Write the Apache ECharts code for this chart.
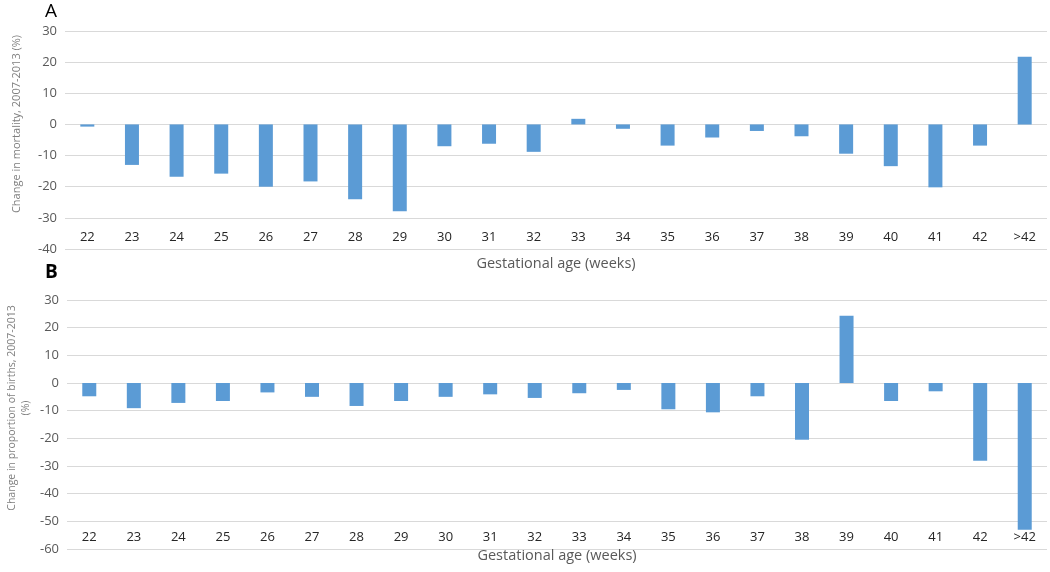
<!DOCTYPE html>
<html>
<head>
<meta charset="utf-8">
<script src="https://cdn.jsdelivr.net/npm/echarts@6/dist/echarts.min.js"></script>
<style>
html,body{margin:0;padding:0;background:#fff;}
#chart{width:1050px;height:572px;}
</style>
</head>
<body>
<div id="chart"></div>
<script>
const categories = ['22','23','24','25','26','27','28','29','30','31','32','33','34','35','36','37','38','39','40','41','42','>42'];
const mortalityChange = [-0.7,-13.0,-16.8,-15.8,-20.0,-18.3,-24.0,-27.9,-7.0,-6.2,-8.8,1.8,-1.4,-6.8,-4.2,-2.1,-3.8,-9.4,-13.4,-20.2,-6.8,21.7];
const birthsChange = [-4.8,-9.1,-7.2,-6.5,-3.4,-5.0,-8.3,-6.5,-5.0,-4.1,-5.4,-3.7,-2.5,-9.5,-10.6,-4.8,-20.5,24.3,-6.5,-3.0,-28.1,-53.0];
const xAxisTitle = 'Gestational age (weeks)';
const yTitleA = 'Change in mortality, 2007-2013 (%)';
const yTitleB = 'Change in proportion of births, 2007-2013\n(%)';

const FONT = '"Open Sans", "Noto Sans", sans-serif';
const BAR = '#5B9BD5';
const GRIDC = '#D9D9D9';

function xAx(gridIndex,gap){
  return {
    type:'category', gridIndex, data:categories,
    axisLine:{show:false}, axisTick:{show:false},
    axisLabel:{margin:-18, color:'#262626', fontSize:13, fontFamily:FONT, interval:0},
    name:xAxisTitle, nameLocation:'middle', nameGap:gap,
    nameTextStyle:{color:'#595959', fontSize:14.5, fontFamily:FONT, verticalAlign:'top'}
  };
}
function yAx(gridIndex,min,max){
  return {
    type:'value', gridIndex, min, max, interval:10,
    axisLine:{show:false}, axisTick:{show:false},
    axisLabel:{color:'#595959', fontSize:13, fontFamily:FONT, margin:8},
    splitLine:{lineStyle:{color:GRIDC, width:1}}
  };
}
function yTitle(text,x,y,size){
  return {
    type:'text', x, y, rotation:Math.PI/2,
    style:{text, fill:'#7F7F7F', fontSize:size, fontFamily:FONT, lineHeight:14, align:'center', verticalAlign:'middle'}
  };
}

const chart = echarts.init(document.getElementById('chart'), null, {renderer:'canvas'});
chart.setOption({
  animation:false,
  backgroundColor:'#fff',
  title:[
    {text:'A', left:40, top:-3, textStyle:{fontSize:19, fontWeight:'normal', color:'#000', fontFamily:FONT}},
    {text:'B', left:40, top:258, textStyle:{fontSize:19, fontWeight:'bold', color:'#000', fontFamily:FONT}}
  ],
  graphic:[
    yTitle(yTitleA,17,124,11),
    yTitle(yTitleB,19,408,10.5)
  ],
  grid:[
    {left:65, right:3, top:31, bottom:323, outerBoundsMode:'none', containLabel:false},
    {left:67, right:3, top:300, bottom:23, outerBoundsMode:'none', containLabel:false}
  ],
  xAxis:[xAx(0,7), xAx(1,-1)],
  yAxis:[yAx(0,-40,30), yAx(1,-60,30)],
  series:[
    {type:'bar', xAxisIndex:0, yAxisIndex:0, data:mortalityChange, barWidth:14, itemStyle:{color:BAR}},
    {type:'bar', xAxisIndex:1, yAxisIndex:1, data:birthsChange, barWidth:14, itemStyle:{color:BAR}}
  ]
});
</script>
</body>
</html>
